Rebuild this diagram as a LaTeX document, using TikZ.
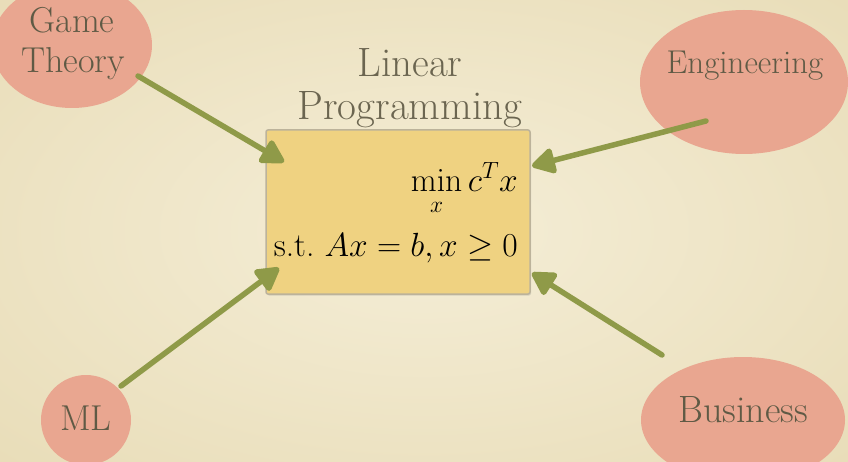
\RequirePackage{fix-cm}
\documentclass[tikz,border=0pt]{standalone}
\usepackage{amsmath,amssymb}
\usetikzlibrary{arrows.meta,shadows,shapes.geometric}
\definecolor{bgin}{HTML}{F5EED7}
\definecolor{bgout}{HTML}{DCCC9A}
\definecolor{blobc}{HTML}{E9A690}
\definecolor{lbl}{HTML}{5F5A45}
\definecolor{ttl}{HTML}{6B6550}
\definecolor{boxfill}{HTML}{EFD281}
\definecolor{boxline}{HTML}{BCB39B}
\definecolor{arr}{HTML}{8F9A48}
\begin{document}
\begin{tikzpicture}[x=1pt,y=-1pt,
  blob/.style={ellipse, fill=blobc, inner sep=0pt},
  lbltext/.style={text=lbl, font=\fontsize{36}{40}\selectfont, inner sep=0pt, anchor=base},
  ttltext/.style={text=ttl, font=\fontsize{41}{46}\selectfont, inner sep=0pt, anchor=base},
  mathtext/.style={text=black, font=\fontsize{33.5}{38}\selectfont, inner sep=0pt, anchor=base east},
  chalk/.style={draw=arr, line width=5.5pt, line cap=round, -{Triangle[length=26pt,width=28pt,round]}},
]
\useasboundingbox (0,0) rectangle (848,462);
\clip (0,0) rectangle (848,462);
\shade[inner color=bgin, outer color=bgout] (-776,-429) rectangle (1624,891);

% topic blobs
\node[blob, minimum width=160pt, minimum height=126pt] (gt) at (72,45) {};
\node[blob, minimum width=208pt, minimum height=144pt] (eng) at (744,82) {};
\node[blob, minimum width=90pt, minimum height=90pt] (ml) at (86,420) {};
\node[blob, minimum width=204pt, minimum height=126pt] (bus) at (743,420) {};

\node[lbltext] (gt1) at (72,33) {Game};
\node[lbltext] (gt2) at (73,73) {Theory};
\node[lbltext, font=\fontsize{33}{36}\selectfont] (engt) at (745,74) {Engineering};
\node[lbltext] (mlt) at (86,430) {ML};
\node[lbltext, font=\fontsize{38}{40}\selectfont] (bust) at (743,422) {Business};

% central box
\node[fill=boxfill, draw=boxline, line width=1.5pt, rounded corners=2pt,
      minimum width=264pt, minimum height=164pt,
      drop shadow={opacity=0.25, shadow xshift=1pt, shadow yshift=-1.5pt}] (lp) at (398,212) {};

\node[ttltext] (t1) at (410,77) {Linear};
\node[ttltext] (t2) at (410,120) {Programming};

\node[mathtext] (obj) at (518,192) {$\displaystyle\min_x c^T x$};
\node[mathtext] (con) at (518,257) {s.t.\ $Ax=b, x\geq 0$};

% arrows
\coordinate (gts) at (138,76);   \coordinate (gte) at (284,162);
\coordinate (engs) at (706,121); \coordinate (enge) at (532,166);
\coordinate (mls) at (121,386);  \coordinate (mle) at (279,268);
\coordinate (buss) at (662,355); \coordinate (buse) at (532,273);
\draw[chalk] (gts) -- (gte);
\draw[chalk] (engs) -- (enge);
\draw[chalk] (mls) -- (mle);
\draw[chalk] (buss) -- (buse);
\end{tikzpicture}
\end{document}
